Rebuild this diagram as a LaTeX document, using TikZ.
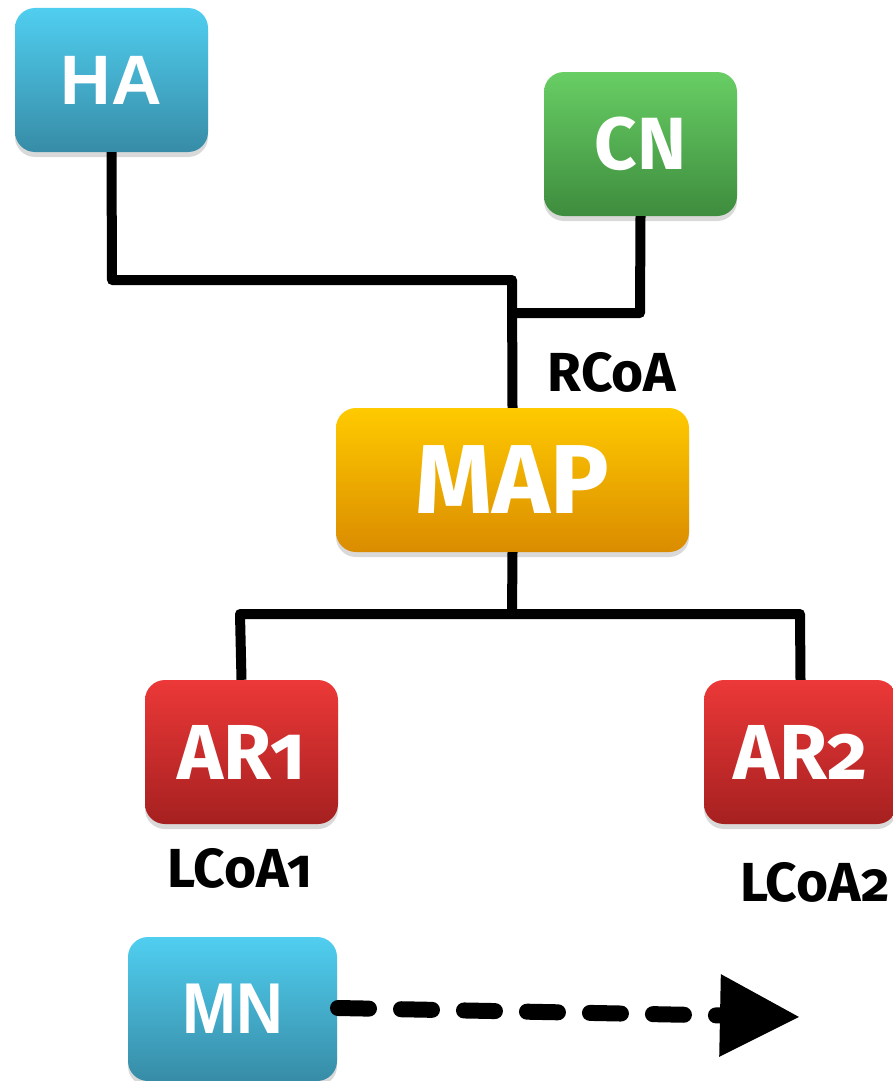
\documentclass[tikz,border=0pt]{standalone}
\usepackage{fontspec}
\setmainfont{Fira Sans}[Numbers=OldStyle]
\newfontfamily\arialfont{Liberation Sans}
\usetikzlibrary{shadows,arrows.meta}
\definecolor{haTop}{RGB}{80,206,240}
\definecolor{haBot}{RGB}{55,140,166}
\definecolor{cnTop}{RGB}{104,206,100}
\definecolor{cnBot}{RGB}{62,140,62}
\definecolor{mapTop}{RGB}{255,202,0}
\definecolor{mapBot}{RGB}{218,140,0}
\definecolor{arTop}{RGB}{236,56,56}
\definecolor{arBot}{RGB}{166,32,32}

\begin{document}
\begin{tikzpicture}[x=1pt,y=-1pt,
  box/.style={rounded corners=20pt,minimum width=193pt,minimum height=144pt,inner sep=0pt,
    text=white,font=\bfseries,drop shadow={shadow xshift=0pt,shadow yshift=-5pt,opacity=0.3}},
  wire/.style={line width=10pt,line join=round},
  coa/.style={font=\fontsize{55}{55}\selectfont\bfseries}]
\useasboundingbox (0,0) rectangle (892,1081);
\node (HA) [box,top color=haTop,bottom color=haBot] at (111.5,80) {\arialfont\fontsize{70}{70}\selectfont\bfseries HA};
\node (CN) [box,top color=cnTop,bottom color=cnBot] at (640.5,144) {\fontsize{74}{74}\selectfont CN};
\node (MAP) [box,minimum width=353pt,top color=mapTop,bottom color=mapBot] at (512.5,480) {\fontsize{98}{98}\selectfont MAP};
\node (AR1) [box,top color=arTop,bottom color=arBot] at (241.5,752) {\fontsize{78}{78}\selectfont AR1};
\node (AR2) [box,top color=arTop,bottom color=arBot] at (800.5,752) {\fontsize{78}{78}\selectfont AR2};
\node (MN) [box,minimum width=209pt,top color=haTop,bottom color=haBot] at (232.5,1009) {\arialfont\fontsize{72}{72}\selectfont\bfseries\scalebox{0.9}[1]{MN}};
\node (RCoA) [coa] at (612,372) {RCoA};
\node (LCoA1) [coa] at (240,868) {LCoA1};
\node (LCoA2) [coa] at (815,882) {LCoA2};
% wires
\coordinate (bus) at (512,614);
\coordinate (join) at (512,313);
\draw [wire] (HA.south) -- (112,280) -- (512,280) -- (MAP.north);
\draw [wire] (CN.south) -- (640,313) -- (join);
\draw [wire] (MAP.south) -- (bus);
\draw [wire] (AR1.north) -- (240,614) -- (800,614) -- (AR2.north);
% movement
\coordinate (mnend) at (800,1017);
\draw [line width=16pt,line cap=round,dash pattern=on 31pt off 32pt,
  -{Triangle[length=80pt,width=78pt]}] (338,1008) -- (mnend);
\end{tikzpicture}
\end{document}
